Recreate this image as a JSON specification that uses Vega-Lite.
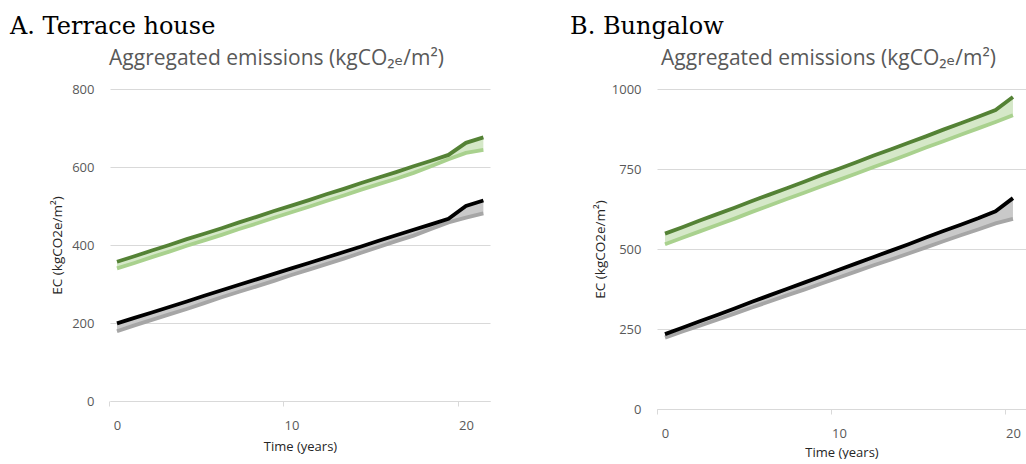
{
  "$schema": "https://vega.github.io/schema/vega-lite/v6.json",
  "background": "white",
  "padding": {"left": 10, "top": 15, "right": 0, "bottom": 0},
  "bounds": "flush",
  "spacing": 167,
  "config": {
    "view": {"stroke": null},
    "axisY": {"grid": true, "gridColor": "#d9d9d9", "gridWidth": 1, "domain": false, "ticks": false, "format": "d", "labelColor": "#595959", "labelFont": "Open Sans", "labelFontSize": 13, "labelPadding": 16, "titleFont": "Open Sans", "titleFontSize": 13.5, "titleFontWeight": "normal", "titleColor": "#262626", "titleBaseline": "middle"},
    "title": {"font": "DejaVu Serif", "fontSize": 24, "fontWeight": "normal", "color": "#000000", "anchor": "start", "frame": "group", "offset": 8}
  },
  "datasets": {
    "A": [
      {"t": 0, "dg": 357, "lg": 340, "bk": 199, "gr": 179},
      {"t": 1, "dg": 371, "lg": 354, "bk": 213, "gr": 194},
      {"t": 2, "dg": 386, "lg": 369, "bk": 227, "gr": 208},
      {"t": 3, "dg": 400, "lg": 383, "bk": 241, "gr": 222},
      {"t": 4, "dg": 415, "lg": 398, "bk": 255, "gr": 236},
      {"t": 5, "dg": 429, "lg": 412, "bk": 270, "gr": 251},
      {"t": 6, "dg": 443, "lg": 426, "bk": 284, "gr": 266},
      {"t": 7, "dg": 458, "lg": 441, "bk": 298, "gr": 280},
      {"t": 8, "dg": 472, "lg": 455, "bk": 312, "gr": 294},
      {"t": 9, "dg": 487, "lg": 470, "bk": 326, "gr": 308},
      {"t": 10, "dg": 501, "lg": 484, "bk": 340, "gr": 323},
      {"t": 11, "dg": 515, "lg": 498, "bk": 354, "gr": 337},
      {"t": 12, "dg": 530, "lg": 513, "bk": 368, "gr": 351},
      {"t": 13, "dg": 544, "lg": 527, "bk": 382, "gr": 365},
      {"t": 14, "dg": 559, "lg": 542, "bk": 396, "gr": 380},
      {"t": 15, "dg": 573, "lg": 556, "bk": 411, "gr": 395},
      {"t": 16, "dg": 587, "lg": 570, "bk": 425, "gr": 410},
      {"t": 17, "dg": 602, "lg": 585, "bk": 439, "gr": 424},
      {"t": 18, "dg": 616, "lg": 602, "bk": 453, "gr": 441},
      {"t": 19, "dg": 631, "lg": 620, "bk": 467, "gr": 458},
      {"t": 20, "dg": 662, "lg": 636, "bk": 500, "gr": 470},
      {"t": 21, "dg": 676, "lg": 644, "bk": 514, "gr": 481}
    ],
    "B": [
      {"t": 0, "dg": 548, "lg": 515, "bk": 234, "gr": 223},
      {"t": 1, "dg": 568, "lg": 535, "bk": 254, "gr": 242},
      {"t": 2, "dg": 589, "lg": 555, "bk": 274, "gr": 260},
      {"t": 3, "dg": 609, "lg": 575, "bk": 294, "gr": 279},
      {"t": 4, "dg": 629, "lg": 595, "bk": 314, "gr": 298},
      {"t": 5, "dg": 650, "lg": 616, "bk": 335, "gr": 317},
      {"t": 6, "dg": 670, "lg": 636, "bk": 355, "gr": 336},
      {"t": 7, "dg": 690, "lg": 656, "bk": 375, "gr": 355},
      {"t": 8, "dg": 710, "lg": 676, "bk": 395, "gr": 373},
      {"t": 9, "dg": 731, "lg": 696, "bk": 415, "gr": 392},
      {"t": 10, "dg": 751, "lg": 716, "bk": 435, "gr": 411},
      {"t": 11, "dg": 771, "lg": 736, "bk": 455, "gr": 430},
      {"t": 12, "dg": 792, "lg": 756, "bk": 475, "gr": 449},
      {"t": 13, "dg": 812, "lg": 776, "bk": 495, "gr": 467},
      {"t": 14, "dg": 832, "lg": 796, "bk": 515, "gr": 486},
      {"t": 15, "dg": 852, "lg": 817, "bk": 536, "gr": 505},
      {"t": 16, "dg": 873, "lg": 837, "bk": 556, "gr": 524},
      {"t": 17, "dg": 893, "lg": 857, "bk": 576, "gr": 543},
      {"t": 18, "dg": 913, "lg": 877, "bk": 596, "gr": 561},
      {"t": 19, "dg": 934, "lg": 897, "bk": 618, "gr": 580},
      {"t": 20, "dg": 975, "lg": 918, "bk": 659, "gr": 594}
    ]
  },
  "hconcat": [
    {
      "width": 380,
      "height": 312,
      "data": {"name": "A"},
      "title": {"text": "A. Terrace house", "dx": -100},
      "resolve": {"axis": {"x": "independent"}},
      "layer": [
        {
          "mark": {"type": "area", "color": "#d5e8c8"},
          "encoding": {
            "x": {"field": "t", "type": "quantitative", "scale": {"domain": [-0.4, 21.38], "nice": false, "zero": false},
              "axis": {"values": [0, 10, 20], "format": "d", "grid": false, "labelFlush": false, "domainColor": "#d9d9d9", "tickColor": "#d9d9d9", "tickSize": 5, "tickOffset": -8, "labelOffset": 8, "labelColor": "#595959", "labelFont": "Open Sans", "labelFontSize": 13, "labelPadding": 13, "title": "Time (years)", "titleFont": "Open Sans", "titleFontSize": 13, "titleFontWeight": "normal", "titleColor": "#262626", "titlePadding": 8}},
            "y": {"field": "dg", "type": "quantitative", "scale": {"domain": [0, 800], "nice": false}, "title": "EC (kgCO2e/m²)", "axis": {"values": [0, 200, 400, 600, 800], "titleX": -53}},
            "y2": {"field": "lg"}
          }
        },
        {
          "mark": {"type": "area", "color": "#c9c9c9"},
          "encoding": {
            "x": {"field": "t", "type": "quantitative",
              "axis": {"orient": "top", "labels": false, "ticks": false, "domain": false, "grid": false, "title": "Aggregated emissions (kgCO₂ₑ/m²)", "titleFont": "Open Sans, DejaVu Sans", "titleFontSize": 21, "titleFontWeight": "normal", "titleColor": "#595959", "titleX": 166, "titleY": -25, "titleAlign": "center", "titleBaseline": "alphabetic"}},
            "y": {"field": "bk", "type": "quantitative", "title": "EC (kgCO2e/m²)"},
            "y2": {"field": "gr"}
          }
        },
        {
          "mark": {"type": "line", "color": "#a9d18e", "strokeWidth": 3.8},
          "encoding": {"x": {"field": "t", "type": "quantitative", "axis": null}, "y": {"field": "lg", "type": "quantitative", "title": "EC (kgCO2e/m²)"}}
        },
        {
          "mark": {"type": "line", "color": "#548235", "strokeWidth": 3.8},
          "encoding": {"x": {"field": "t", "type": "quantitative", "axis": null}, "y": {"field": "dg", "type": "quantitative", "title": "EC (kgCO2e/m²)"}}
        },
        {
          "mark": {"type": "line", "color": "#a6a6a6", "strokeWidth": 3.8},
          "encoding": {"x": {"field": "t", "type": "quantitative", "axis": null}, "y": {"field": "gr", "type": "quantitative", "title": "EC (kgCO2e/m²)"}}
        },
        {
          "mark": {"type": "line", "color": "#000000", "strokeWidth": 3.8},
          "encoding": {"x": {"field": "t", "type": "quantitative", "axis": null}, "y": {"field": "bk", "type": "quantitative", "title": "EC (kgCO2e/m²)"}}
        }
      ]
    },
    {
      "width": 369,
      "height": 320,
      "data": {"name": "B"},
      "title": {"text": "B. Bungalow", "dx": -87},
      "resolve": {"axis": {"x": "independent"}},
      "layer": [
        {
          "mark": {"type": "area", "color": "#d5e8c8"},
          "encoding": {
            "x": {"field": "t", "type": "quantitative", "scale": {"domain": [-0.46, 20.75], "nice": false, "zero": false},
              "axis": {"values": [0, 10, 20], "format": "d", "grid": false, "labelFlush": false, "domainColor": "#d9d9d9", "tickColor": "#d9d9d9", "tickSize": 5, "tickOffset": -8, "labelOffset": 8, "labelColor": "#595959", "labelFont": "Open Sans", "labelFontSize": 13, "labelPadding": 13, "title": "Time (years)", "titleFont": "Open Sans", "titleFontSize": 13, "titleFontWeight": "normal", "titleColor": "#262626", "titlePadding": 6}},
            "y": {"field": "dg", "type": "quantitative", "scale": {"domain": [0, 1000], "nice": false}, "title": "EC (kgCO2e/m²)", "axis": {"values": [0, 250, 500, 750, 1000], "titleX": -57}},
            "y2": {"field": "lg"}
          }
        },
        {
          "mark": {"type": "area", "color": "#c9c9c9"},
          "encoding": {
            "x": {"field": "t", "type": "quantitative",
              "axis": {"orient": "top", "labels": false, "ticks": false, "domain": false, "grid": false, "title": "Aggregated emissions (kgCO₂ₑ/m²)", "titleFont": "Open Sans, DejaVu Sans", "titleFontSize": 21, "titleFontWeight": "normal", "titleColor": "#595959", "titleX": 171, "titleY": -25, "titleAlign": "center", "titleBaseline": "alphabetic"}},
            "y": {"field": "bk", "type": "quantitative", "title": "EC (kgCO2e/m²)"},
            "y2": {"field": "gr"}
          }
        },
        {
          "mark": {"type": "line", "color": "#a9d18e", "strokeWidth": 3.8},
          "encoding": {"x": {"field": "t", "type": "quantitative", "axis": null}, "y": {"field": "lg", "type": "quantitative", "title": "EC (kgCO2e/m²)"}}
        },
        {
          "mark": {"type": "line", "color": "#548235", "strokeWidth": 3.8},
          "encoding": {"x": {"field": "t", "type": "quantitative", "axis": null}, "y": {"field": "dg", "type": "quantitative", "title": "EC (kgCO2e/m²)"}}
        },
        {
          "mark": {"type": "line", "color": "#a6a6a6", "strokeWidth": 3.8},
          "encoding": {"x": {"field": "t", "type": "quantitative", "axis": null}, "y": {"field": "gr", "type": "quantitative", "title": "EC (kgCO2e/m²)"}}
        },
        {
          "mark": {"type": "line", "color": "#000000", "strokeWidth": 3.8},
          "encoding": {"x": {"field": "t", "type": "quantitative", "axis": null}, "y": {"field": "bk", "type": "quantitative", "title": "EC (kgCO2e/m²)"}}
        }
      ]
    }
  ]
}
